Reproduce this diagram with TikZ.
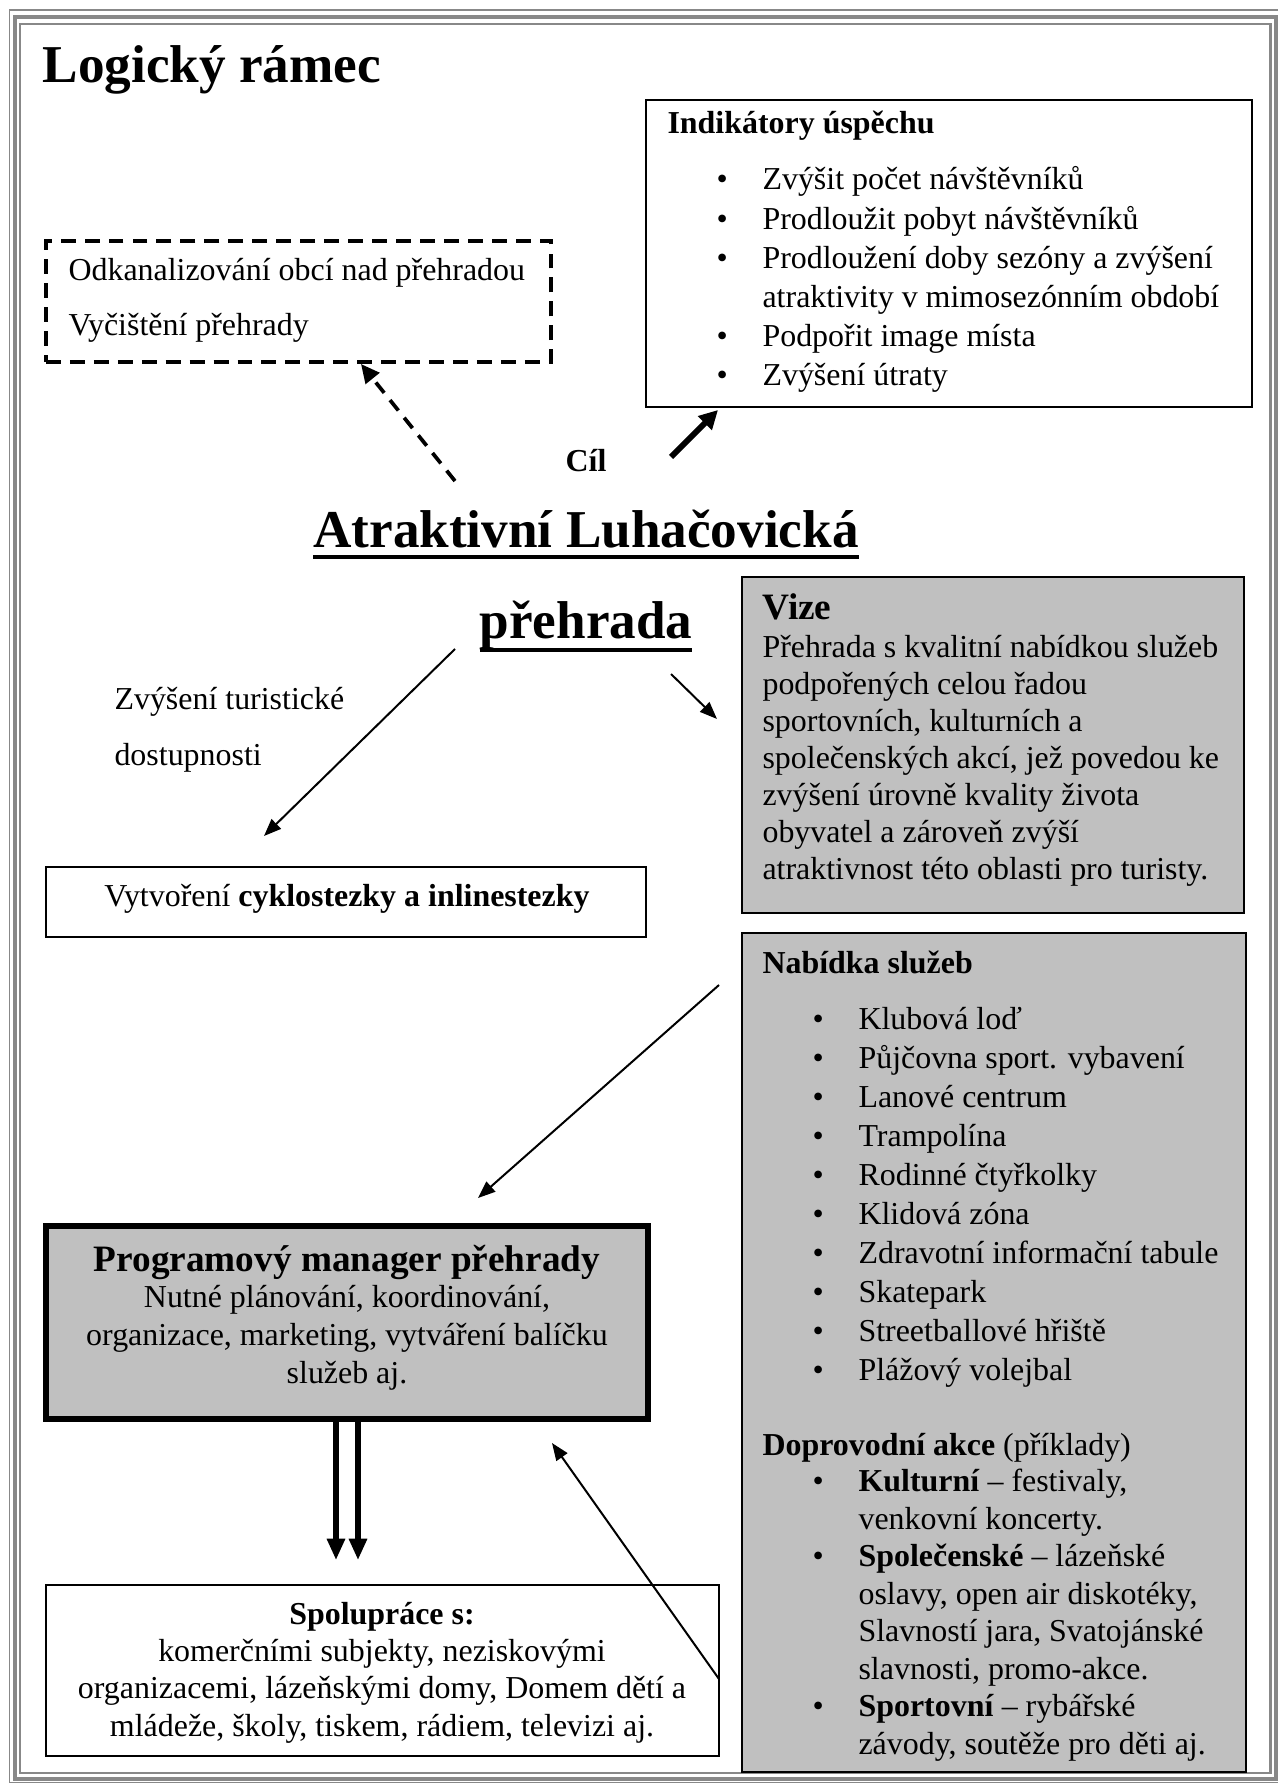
\documentclass[tikz,border=0pt]{standalone}
\usepackage{fontspec}
\setmainfont{Liberation Serif}
\usepackage{tikz}
\usetikzlibrary{arrows.meta, fit}
\definecolor{boxgray}{HTML}{C0C0C0}
\definecolor{framegray}{HTML}{888888}
\newsavebox{\ulbox}
\newcommand{\ulbig}[2][4.1pt]{\sbox{\ulbox}{#2}\rlap{\rule[-#1]{\wd\ulbox}{1.6pt}}\usebox{\ulbox}}
\newcommand{\blt}{\makebox[17.3pt][l]{\textbullet}}
\newcommand{\bltgap}{\makebox[17.3pt]{}}
\tikzstyle{plainbox} =
        [
                draw,
                line width = 0.75pt,
                inner sep = 0pt
        ]
\tikzstyle{dashbox} =
        [
                draw,
                line width = 1.5pt,
                dash pattern = on 5.6pt off 3.4pt,
                inner sep = 0pt
        ]
\tikzstyle{graybox} =
        [
                plainbox,
                fill = boxgray
        ]
\tikzstyle{thickbox} =
        [
                graybox,
                line width = 1.9pt
        ]
\tikzstyle{bodytext} =
        [
                inner sep = 0pt,
                align = left,
                font = \fontsize{12pt}{14.75pt}\selectfont
        ]
\tikzstyle{headtext} =
        [
                inner sep = 0pt,
                font = \fontsize{14pt}{17pt}\selectfont\bfseries
        ]
\tikzstyle{bigtext} =
        [
                inner sep = 0pt,
                font = \fontsize{20pt}{24pt}\selectfont\bfseries
        ]
\tikzstyle{line} =
        [
                draw,
                line width = 0.75pt,
                -{Triangle[length = 6.5pt, width = 5pt]}
        ]
\tikzstyle{dashline} =
        [
                draw,
                line width = 1.4pt,
                dash pattern = on 5pt off 3.5pt,
                -{Triangle[length = 7pt, width = 6.5pt]}
        ]
\tikzstyle{boldline} =
        [
                draw,
                line width = 2.2pt,
                -{Triangle[length = 7pt, width = 7pt]}
        ]
\tikzstyle{doubleline} =
        [
                draw,
                line width = 1.9pt,
                -{Triangle[length = 8pt, width = 6.5pt]}
        ]
\begin{document}
\begin{tikzpicture}[x = 0.37588pt, y = -0.37588pt]
        \useasboundingbox (0,0) rectangle (1277,1784);
        % page border, thin-thick-thin
        \draw [framegray, line width = 0.56pt] (9.5,10) rectangle (1281,1782.5);
        \draw [framegray, line width = 1.5pt] (15,17.5) rectangle (1275.5,1778.5);
        \draw [framegray, line width = 0.9pt] (20,24) rectangle (1270.5,1773);

        \node [bigtext, anchor = base west] (title) at (42,83) {Logický rámec};

        % indicators (multi-line nodes sit on their last baseline)
        \node [plainbox, fit = {(646,100) (1252,407)}] (indik) {};
        \node [bodytext, anchor = base west] (indikhead) at (667,134) {\textbf{Indikátory úspěchu}};
        \node [bodytext, anchor = base west] (indiklist) at (716,386)
                {\blt Zvýšit počet návštěvníků\\
                 \blt Prodloužit pobyt návštěvníků\\
                 \blt Prodloužení doby sezóny a zvýšení\\
                 \bltgap atraktivity v mimosezónním období\\
                 \blt Podpořit image místa\\
                 \blt Zvýšení útraty};

        % precondition
        \node [dashbox, fit = {(46,241) (551,362)}] (cond) {};
        \node [bodytext, anchor = base west, font = \fontsize{12pt}{20.7pt}\selectfont] (condtext) at (68,336)
                {Odkanalizování obcí nad přehradou\\ Vyčištění přehrady};

        % goal
        \node [bodytext, anchor = base] (cil) at (586,472) {\textbf{Cíl}};
        \node [bigtext, anchor = base] (goal1) at (586,548) {\ulbig{Atraktivní Luhačovická}};
        \node [bigtext, anchor = base] (goal2) at (586,638) {\ulbig[5.3pt]{přehrada}};

        \node [bodytext, anchor = base west, font = \fontsize{12pt}{21pt}\selectfont] (access) at (114,765)
                {Zvýšení turistické\\ dostupnosti};

        \node [plainbox, fit = {(46,867) (646,937)}] (cyklo) {};
        \node [bodytext, anchor = base] (cyklotext) at (347,906)
                {Vytvoření \textbf{cyklostezky a inlinestezky}};

        % vision
        \node [graybox, fit = {(742,577) (1244,913)}] (vize) {};
        \node [headtext, anchor = base west] (vizehead) at (762,619) {Vize};
        \node [bodytext, anchor = base west, font = \fontsize{12pt}{13.85pt}\selectfont] (vizetext) at (762,879)
                {Přehrada s kvalitní nabídkou služeb\\
                 podpořených celou řadou\\
                 sportovních, kulturních a\\
                 společenských akcí, jež povedou ke\\
                 zvýšení úrovně kvality života\\
                 obyvatel a zároveň zvýší\\
                 atraktivnost této oblasti pro turisty.};

        % services
        \node [graybox, fit = {(742,933) (1246,1772)}] (nabidka) {};
        \node [bodytext, anchor = base west] (nabhead) at (762,973) {\textbf{Nabídka služeb}};
        \node [bodytext, anchor = base west, font = \fontsize{12pt}{14.66pt}\selectfont] (nablist) at (812,1380)
                {\blt Klubová loď\\
                 \blt Půjčovna sport. vybavení\\
                 \blt Lanové centrum\\
                 \blt Trampolína\\
                 \blt Rodinné čtyřkolky\\
                 \blt Klidová zóna\\
                 \blt Zdravotní informační tabule\\
                 \blt Skatepark\\
                 \blt Streetballové hřiště\\
                 \blt Plážový volejbal};
        \node [bodytext, anchor = base west] (akcehead) at (762,1455) {\textbf{Doprovodní akce} (příklady)};
        \node [bodytext, anchor = base west, font = \fontsize{12pt}{14.07pt}\selectfont] (akcelist) at (812,1754)
                {\blt \textbf{Kulturní} – festivaly,\\
                 \bltgap venkovní koncerty.\\
                 \blt \textbf{Společenské} – lázeňské\\
                 \bltgap oslavy, open air diskotéky,\\
                 \bltgap Slavností jara, Svatojánské\\
                 \bltgap slavnosti, promo-akce.\\
                 \blt \textbf{Sportovní} – rybářské\\
                 \bltgap závody, soutěže pro děti aj.};

        % manager
        \node [thickbox, fit = {(46,1226) (648,1419)}] (manager) {};
        \node [headtext, anchor = base] (manhead) at (347,1271) {Programový manager přehrady};
        \node [bodytext, anchor = base, align = center, font = \fontsize{12pt}{14.1pt}\selectfont] (mantext) at (347,1383)
                {Nutné plánování, koordinování,\\ organizace, marketing, vytváření balíčku\\ služeb aj.};

        % cooperation
        \node [plainbox, fit = {(46,1585) (719,1756)}] (spol) {};
        \node [bodytext, anchor = base, align = center, font = \fontsize{12pt}{14pt}\selectfont] (spoltext) at (382,1736)
                {\textbf{Spolupráce s:}\\ komerčními subjekty, neziskovými\\ organizacemi, lázeňskými domy, Domem dětí a\\ mládeže, školy, tiskem, rádiem, televizi aj.};

        % arrow ends
        \coordinate (a1) at (455,481);
        \coordinate (a1e) at (361,364);
        \coordinate (a2) at (671,457);
        \coordinate (a2e) at (718,410);
        \coordinate (a3) at (455,649);
        \coordinate (a3e) at (264,836);
        \coordinate (a4) at (671,674);
        \coordinate (a4e) at (717,719);
        \coordinate (a5) at (719,985);
        \coordinate (a5e) at (478,1198);
        \coordinate (a6) at (719,1679);
        \coordinate (a6e) at (552,1443);
        \coordinate (a7) at (336,1421);
        \coordinate (a7e) at (336,1560);
        \coordinate (a8) at (358,1421);
        \coordinate (a8e) at (358,1560);

        \path [dashline] (a1) -- (a1e);
        \path [boldline] (a2) -- (a2e);
        \path [line] (a3) -- (a3e);
        \path [line] (a4) -- (a4e);
        \path [line] (a5) -- (a5e);
        \path [line] (a6) -- (a6e);
        \path [doubleline] (a7) -- (a7e);
        \path [doubleline] (a8) -- (a8e);
\end{tikzpicture}
\end{document}
